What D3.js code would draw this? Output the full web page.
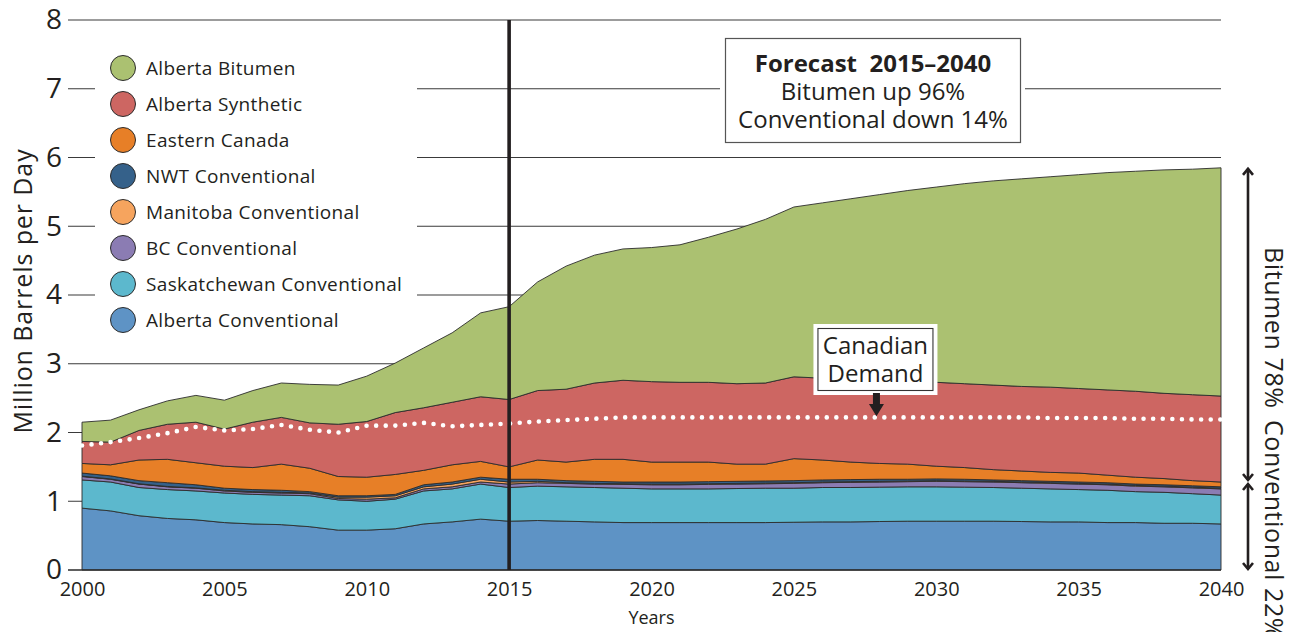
<!DOCTYPE html>
<html>
<head>
<meta charset="utf-8">
<script src="https://cdn.jsdelivr.net/npm/d3@7/dist/d3.min.js"></script>
<style>
  html, body { margin: 0; padding: 0; background: #fff; }
  svg { display: block; font-family: "Open Sans", "Noto Sans", sans-serif; }
  text { fill: #231f20; }
</style>
</head>
<body>
<svg id="chart" width="1297" height="632"></svg>
<script>
// Canadian crude oil production by source, million barrels per day, 2000–2040
const years = d3.range(2000, 2041);

const albertaConventional = [0.90,0.86,0.79,0.75,0.73,0.69,0.67,0.66,0.63,0.58,0.58,0.60,0.67,0.70,0.74,0.71,0.72,0.71,0.70,0.69,0.69,0.69,0.69,0.69,0.69,0.695,0.70,0.70,0.705,0.71,0.71,0.71,0.71,0.705,0.70,0.70,0.69,0.69,0.68,0.68,0.67];
const saskatchewanConventional = [0.41,0.42,0.41,0.42,0.42,0.43,0.43,0.43,0.45,0.44,0.42,0.43,0.48,0.48,0.51,0.49,0.50,0.50,0.50,0.50,0.49,0.49,0.49,0.495,0.50,0.495,0.50,0.50,0.50,0.50,0.50,0.495,0.49,0.485,0.48,0.47,0.47,0.45,0.45,0.43,0.42];
const bcConventional = [0.05,0.04,0.05,0.04,0.04,0.03,0.03,0.03,0.03,0.02,0.03,0.02,0.03,0.03,0.03,0.05,0.05,0.05,0.05,0.055,0.06,0.06,0.065,0.065,0.065,0.07,0.07,0.075,0.075,0.075,0.08,0.08,0.08,0.08,0.08,0.08,0.08,0.08,0.08,0.085,0.09];
const manitobaConventional = [0.005,0.005,0.005,0.005,0.005,0.01,0.01,0.01,0.01,0.02,0.03,0.03,0.03,0.04,0.04,0.03,0.02,0.01,0.01,0.01,0.01,0.01,0.01,0.01,0.01,0.01,0.01,0.01,0.01,0.01,0.01,0.01,0.01,0.01,0.01,0.01,0.01,0.01,0.01,0.01,0.01];
const nwtConventional = [0.045,0.045,0.045,0.055,0.045,0.03,0.03,0.03,0.02,0.02,0.02,0.02,0.03,0.03,0.03,0.04,0.03,0.03,0.03,0.025,0.03,0.03,0.03,0.03,0.03,0.03,0.03,0.03,0.03,0.025,0.025,0.025,0.02,0.02,0.02,0.02,0.02,0.02,0.02,0.02,0.02];
const easternCanada = [0.14,0.16,0.30,0.34,0.32,0.32,0.32,0.38,0.34,0.28,0.27,0.29,0.21,0.25,0.23,0.18,0.28,0.27,0.32,0.33,0.29,0.29,0.285,0.25,0.245,0.32,0.29,0.255,0.23,0.22,0.185,0.17,0.15,0.14,0.13,0.13,0.11,0.10,0.09,0.075,0.07];
const albertaSynthetic = [0.32,0.33,0.43,0.51,0.59,0.54,0.66,0.68,0.66,0.76,0.81,0.90,0.91,0.91,0.94,0.98,1.01,1.06,1.11,1.15,1.17,1.16,1.16,1.17,1.18,1.19,1.19,1.20,1.21,1.20,1.22,1.22,1.23,1.23,1.24,1.23,1.24,1.25,1.24,1.25,1.25];
const albertaBitumen = [0.28,0.32,0.30,0.34,0.39,0.42,0.46,0.50,0.56,0.57,0.66,0.72,0.87,1.01,1.22,1.35,1.58,1.79,1.86,1.91,1.95,2.00,2.11,2.25,2.38,2.47,2.55,2.63,2.70,2.78,2.84,2.91,2.97,3.02,3.06,3.11,3.16,3.20,3.25,3.28,3.32];

const canadianDemand = [1.81,1.86,1.92,1.99,2.08,2.03,2.05,2.11,2.04,2.00,2.10,2.10,2.14,2.09,2.11,2.13,2.16,2.18,2.20,2.22,2.22,2.22,2.22,2.22,2.22,2.22,2.22,2.22,2.22,2.22,2.22,2.22,2.22,2.22,2.21,2.21,2.21,2.20,2.20,2.19,2.19];

// Series listed bottom to top of the stack
const seriesKeys = ["Alberta Conventional","Saskatchewan Conventional","BC Conventional","Manitoba Conventional","NWT Conventional","Eastern Canada","Alberta Synthetic","Alberta Bitumen"];
const seriesValues = [albertaConventional, saskatchewanConventional, bcConventional, manitobaConventional, nwtConventional, easternCanada, albertaSynthetic, albertaBitumen];
const seriesColors = ["#5e93c5","#5cb8cd","#8b7cb3","#f6a45e","#35618a","#e77f27","#cd6662","#abc171"];

// Legend reads top to bottom
const legendOrder = ["Alberta Bitumen","Alberta Synthetic","Eastern Canada","NWT Conventional","Manitoba Conventional","BC Conventional","Saskatchewan Conventional","Alberta Conventional"];

const yTicks = [0,1,2,3,4,5,6,7,8];
const xTicks = [2000,2005,2010,2015,2020,2025,2030,2035,2040];
const forecastLines = ["Bitumen up 96%","Conventional down 14%"];
const shareLabels = ["Bitumen 78%","Conventional 22%"];

const rows = years.map((yr, i) => {
  const r = { year: yr };
  seriesKeys.forEach((k, j) => r[k] = seriesValues[j][i]);
  return r;
});

const svg = d3.select("#chart");
const x = d3.scaleLinear().domain([2000, 2040]).range([82, 1221]);
const y = d3.scaleLinear().domain([0, 8]).range([570, 20]);
const color = d3.scaleOrdinal().domain(seriesKeys).range(seriesColors);

const gridLeft = 68;

// horizontal gridlines
svg.append("g").selectAll("line").data(yTicks.filter(d => d > 0)).join("line")
  .attr("x1", gridLeft).attr("x2", x(2040))
  .attr("y1", d => y(d)).attr("y2", d => y(d))
  .attr("stroke", "#3a3a3a").attr("stroke-width", 1.1);

// white panels behind legend and forecast box
svg.append("rect").attr("x", 95).attr("y", 32).attr("width", 322).attr("height", 310).attr("fill", "#fff");
svg.append("rect").attr("x", 720).attr("y", 33).attr("width", 305).attr("height", 116).attr("fill", "#fff");

// stacked areas
const stack = d3.stack().keys(seriesKeys);
const layers = stack(rows);
const area = d3.area()
  .x(d => x(d.data.year))
  .y0(d => y(d[0]))
  .y1(d => y(d[1]));

svg.append("g").selectAll("path").data(layers).join("path")
  .attr("d", area)
  .attr("fill", d => color(d.key))
  .attr("stroke", "#2b2b2b")
  .attr("stroke-width", 0.9)
  .attr("stroke-linejoin", "round");

// demand line (white dots)
const demandLine = d3.line().x((d, i) => x(years[i])).y(d => y(d));
svg.append("path")
  .attr("d", demandLine(canadianDemand))
  .attr("fill", "none")
  .attr("stroke", "#fff")
  .attr("stroke-width", 4.6)
  .attr("stroke-linecap", "round")
  .attr("stroke-dasharray", "0 9.6");

// baseline
svg.append("line")
  .attr("x1", gridLeft).attr("x2", x(2040))
  .attr("y1", y(0)).attr("y2", y(0))
  .attr("stroke", "#2b2b2b").attr("stroke-width", 1.6);

// 2015 divider
svg.append("line")
  .attr("x1", x(2015)).attr("x2", x(2015))
  .attr("y1", y(8)).attr("y2", y(0))
  .attr("stroke", "#231f20").attr("stroke-width", 3.6);

// y axis labels
const yAxis = d3.axisLeft(y).tickValues(yTicks).tickSize(0).tickPadding(6).tickFormat(d3.format("d"));
const gy = svg.append("g").attr("transform", `translate(${gridLeft},0)`).call(yAxis);
gy.select(".domain").remove();
gy.selectAll("text").attr("font-size", 28).attr("font-family", "Open Sans").attr("fill", "#231f20");

// x axis labels
const xAxis = d3.axisBottom(x).tickValues(xTicks).tickSize(0).tickPadding(12).tickFormat(d3.format("d"));
const gx = svg.append("g").attr("transform", `translate(0,${y(0)})`).call(xAxis);
gx.select(".domain").remove();
gx.selectAll("text").attr("font-size", 20).attr("font-family", "Open Sans").attr("fill", "#231f20");

svg.append("text").attr("x", x(2020)).attr("y", 624)
  .attr("text-anchor", "middle").attr("font-size", 18).text("Years");

svg.append("text")
  .attr("transform", `translate(32,291) rotate(-90)`)
  .attr("text-anchor", "middle").attr("font-size", 25).attr("letter-spacing", 0.9)
  .text("Million Barrels per Day");

// legend
const lg = svg.append("g");
const item = lg.selectAll("g").data(legendOrder).join("g")
  .attr("transform", (d, i) => `translate(123,${68 + i * 36})`);
item.append("circle").attr("r", 12.5).attr("fill", d => color(d))
  .attr("stroke", "#2b2b2b").attr("stroke-width", 1);
item.append("text").attr("x", 23).attr("dy", "0.36em")
  .attr("font-size", 19).attr("letter-spacing", 0.35).text(d => d);

// forecast box
svg.append("rect").attr("x", 725.5).attr("y", 38.5).attr("width", 295).attr("height", 104)
  .attr("fill", "#fff").attr("stroke", "#555").attr("stroke-width", 1.2);
svg.append("text").attr("x", 873).attr("y", 72).attr("text-anchor", "middle")
  .attr("font-size", 24).attr("font-weight", 700).style("white-space", "pre")
  .text("Forecast  2015–2040");
svg.append("g").selectAll("text").data(forecastLines).join("text")
  .attr("x", 873).attr("y", (d, i) => 100 + i * 28).attr("text-anchor", "middle")
  .attr("font-size", 24).text(d => d);

// Canadian Demand callout
const calloutX = x(2027.9);
svg.append("rect").attr("x", calloutX - 63).attr("y", 324).attr("width", 124).attr("height", 71)
  .attr("fill", "#fff");
svg.append("rect").attr("x", calloutX - 58.5).attr("y", 328.5).attr("width", 115).attr("height", 62)
  .attr("fill", "#fff").attr("stroke", "#333").attr("stroke-width", 1.1);
svg.append("text").attr("x", calloutX - 1).attr("y", 354).attr("text-anchor", "middle")
  .attr("font-size", 24).text("Canadian");
svg.append("text").attr("x", calloutX - 1).attr("y", 382).attr("text-anchor", "middle")
  .attr("font-size", 24).text("Demand");
const tipY = y(2.235);
svg.append("path")
  .attr("d", `M${calloutX - 3.5},393 L${calloutX + 3.5},393 L${calloutX + 3.5},404 L${calloutX + 7.5},404 L${calloutX},${tipY} L${calloutX - 7.5},404 L${calloutX - 3.5},404 Z`)
  .attr("fill", "#231f20");

// share arrows on the right
const last = layers.map(l => l[l.length - 1][1]);
const totalTop = last[last.length - 1];
const convTop = last[seriesKeys.indexOf("Eastern Canada")];
const ax = 1248;
const arrows = svg.append("g").attr("stroke", "#231f20").attr("stroke-width", 2.6).attr("fill", "none");
function arrowSeg(yA, yB) {
  arrows.append("line").attr("x1", ax).attr("x2", ax).attr("y1", yA + 1).attr("y2", yB - 1);
  arrows.append("polyline").attr("points", `${ax - 5},${yA + 7} ${ax},${yA + 1} ${ax + 5},${yA + 7}`);
  arrows.append("polyline").attr("points", `${ax - 5},${yB - 7} ${ax},${yB - 1} ${ax + 5},${yB - 7}`);
}
arrowSeg(y(totalTop), y(convTop) - 1);
arrowSeg(y(convTop) + 1, y(0));

svg.append("g").selectAll("text").data(shareLabels).join("text")
  .attr("transform", (d, i) => `translate(1265,${i === 0 ? 247 : 420}) rotate(90)`)
  .attr("font-size", 25).attr("letter-spacing", 0.6)
  .text(d => d);
</script>
</body>
</html>
